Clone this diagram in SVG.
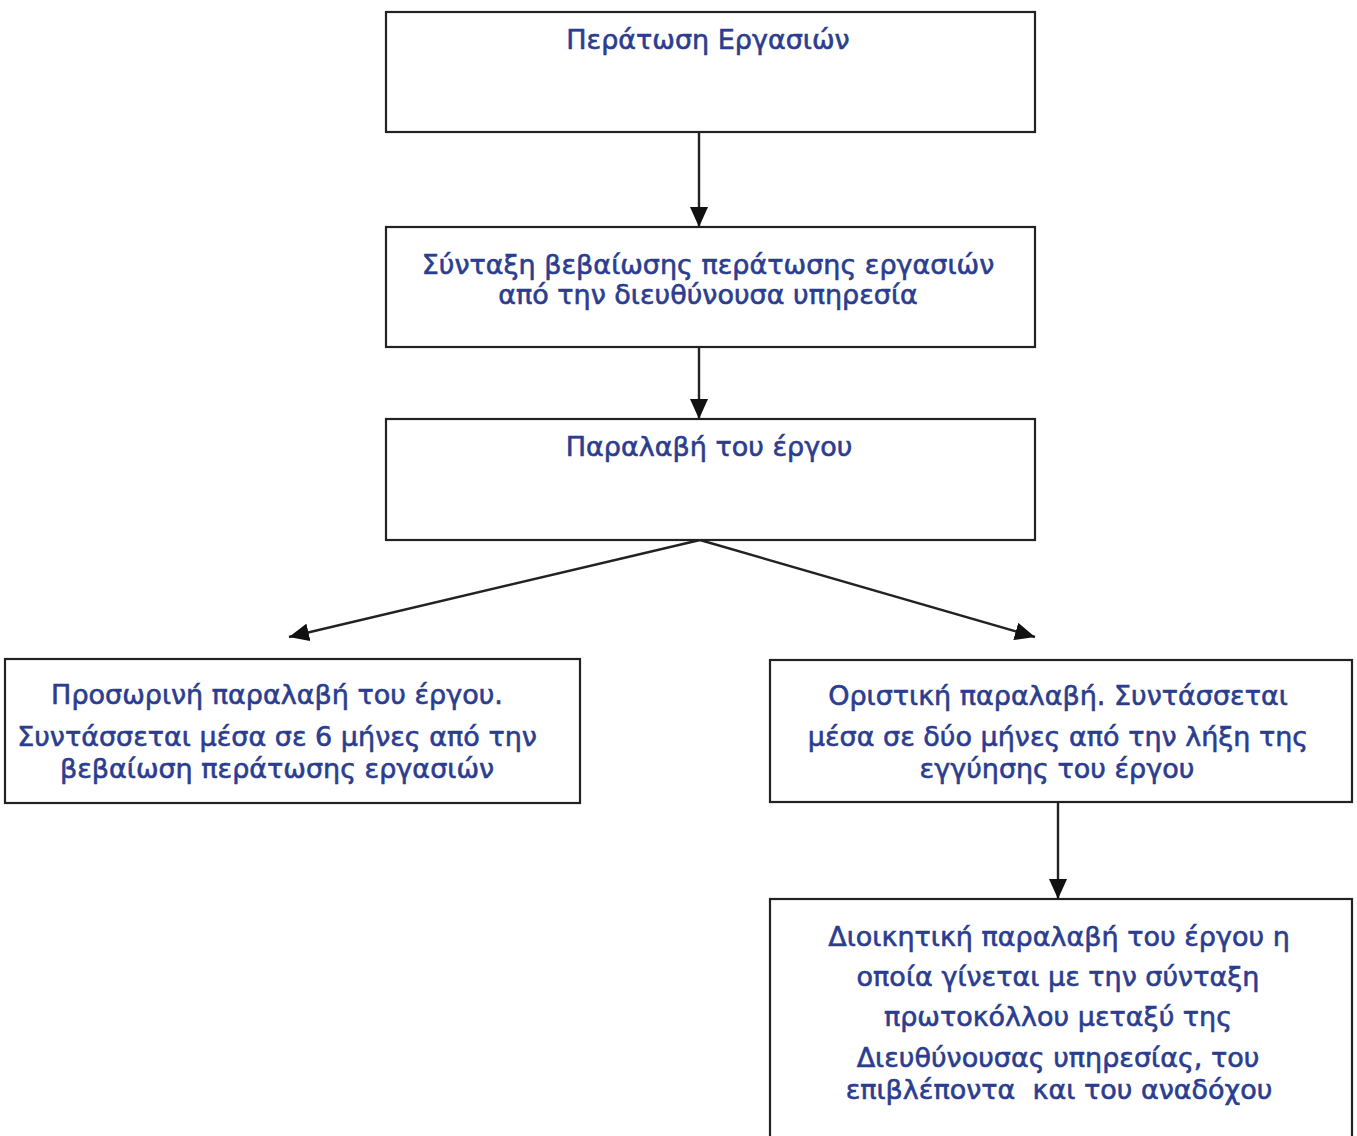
<svg xmlns="http://www.w3.org/2000/svg" width="1357" height="1136" viewBox="0 0 1357 1136">
<defs>
<marker id="ah" viewBox="0 0 20 18" refX="20" refY="9" markerWidth="20" markerHeight="18" markerUnits="userSpaceOnUse" orient="auto">
<path d="M0,0 L20,9 L0,18 z" fill="#111"/>
</marker>
<style>
.box{fill:#fff;stroke:#222;stroke-width:2.2}
.t{font-family:"DejaVu Sans","Noto Sans",sans-serif;font-size:27px;fill:#2b3d8f;stroke:#2b3d8f;stroke-width:0.6;text-anchor:middle}
.c{stroke:#222;stroke-width:2.4;fill:none;marker-end:url(#ah)}
</style>
</defs>
<rect width="1357" height="1136" fill="#fff"/>
<g id="connectors">
<line class="c" x1="699" y1="132" x2="699" y2="227"/>
<line class="c" x1="699" y1="347" x2="699" y2="419"/>
<line class="c" x1="700" y1="540" x2="289" y2="637"/>
<line class="c" x1="700" y1="540" x2="1035" y2="637"/>
<line class="c" x1="1058" y1="802" x2="1058" y2="899"/>
</g>
<g id="n1">
<rect class="box" x="386" y="12" width="649" height="120"/>
<text class="t" x="708" y="49">Περάτωση Εργασιών</text>
</g>
<g id="n2">
<rect class="box" x="386" y="227" width="649" height="120"/>
<text class="t" x="708" y="274">Σύνταξη βεβαίωσης περάτωσης εργασιών</text>
<text class="t" x="708" y="304">από την διευθύνουσα υπηρεσία</text>
</g>
<g id="n3">
<rect class="box" x="386" y="419" width="649" height="121"/>
<text class="t" x="709" y="456">Παραλαβή του έργου</text>
</g>
<g id="n4">
<rect class="box" x="5" y="659" width="575" height="144"/>
<text class="t" x="277" y="704">Προσωρινή παραλαβή του έργου.</text>
<text class="t" x="277" y="746">Συντάσσεται μέσα σε 6 μήνες από την</text>
<text class="t" x="277" y="778">βεβαίωση περάτωσης εργασιών</text>
</g>
<g id="n5">
<rect class="box" x="770" y="660" width="582" height="142"/>
<text class="t" x="1058" y="705">Οριστική παραλαβή. Συντάσσεται</text>
<text class="t" x="1058" y="746">μέσα σε δύο μήνες από την λήξη της</text>
<text class="t" x="1057" y="778">εγγύησης του έργου</text>
</g>
<g id="n6">
<rect class="box" x="770" y="899" width="582" height="250"/>
<text class="t" x="1059" y="946">Διοικητική παραλαβή του έργου η</text>
<text class="t" x="1058" y="986">οποία γίνεται με την σύνταξη</text>
<text class="t" x="1058" y="1026">πρωτοκόλλου μεταξύ της</text>
<text class="t" x="1058" y="1067">Διευθύνουσας υπηρεσίας, του</text>
<text class="t" x="1059" y="1099" xml:space="preserve">επιβλέποντα  και του αναδόχου</text>
</g>
</svg>
